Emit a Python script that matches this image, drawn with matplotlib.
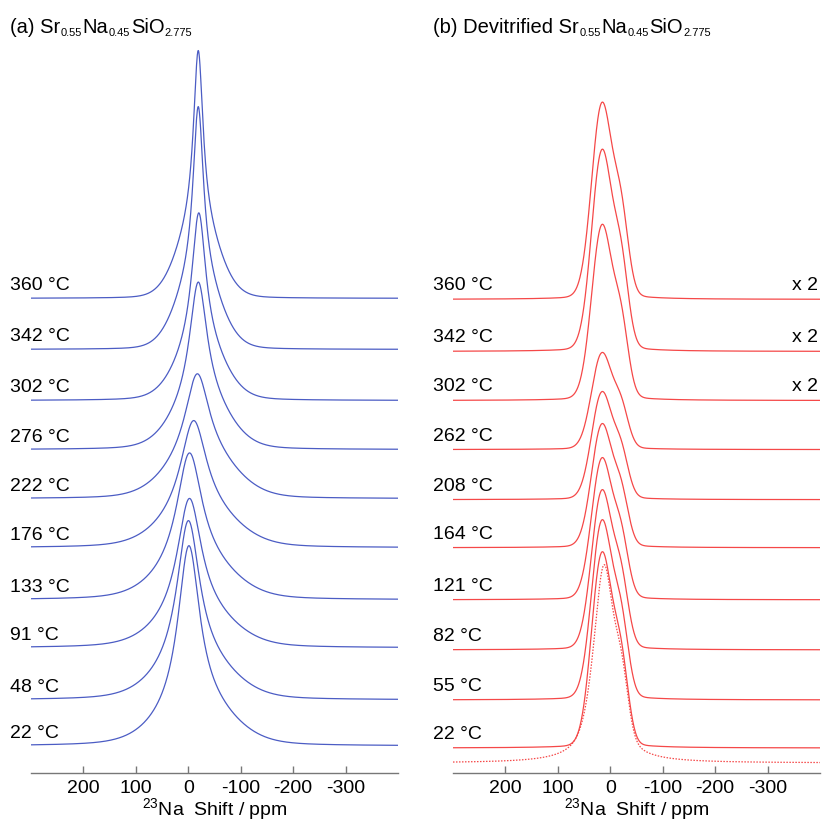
import numpy as np
import matplotlib.pyplot as plt

plt.rcParams['font.family'] = ['Liberation Sans', 'DejaVu Sans']
plt.rcParams['mathtext.fontset'] = 'custom'
plt.rcParams['mathtext.rm'] = 'Liberation Sans'
plt.rcParams['axes.unicode_minus'] = False

# (a) glass, stacked spectra bottom -> top
temps_a = [22, 48, 91, 133, 176, 222, 276, 302, 342, 360]
offset_a = [0.0, 0.92, 1.96, 2.92, 3.96, 4.94, 5.92, 6.90, 7.92, 8.94]
center_a = [-1, 0, -2, -2, -10, -17, -19, -20, -19, -19]
narrow_h_a = [3.3, 2.9, 2.4, 2.3, 1.9, 1.7, 2.4, 2.7, 3.45, 3.5]
narrow_w_a = [50, 52, 56, 58, 60, 55, 40, 32, 24, 22]
broad_h_a = [0.72, 0.7, 0.6, 0.65, 0.65, 0.8, 0.95, 1.05, 1.4, 1.45]
broad_w_a = [150, 150, 150, 150, 150, 140, 115, 100, 92, 88]
broad_shift_a = [-15, -15, -15, -15, -12, -8, -5, -3, 0, 0]

# (b) devitrified, stacked spectra bottom -> top
temps_b = [22, 55, 82, 121, 164, 208, 262, 302, 342, 360]
offset_b = [-0.04, 0.92, 1.92, 2.92, 3.96, 4.92, 5.92, 6.90, 7.88, 8.92]
height_b = [3.92, 3.6, 3.2, 2.84, 2.48, 2.16, 1.94, 3.52, 4.04, 3.94]
scale_b = ['', '', '', '', '', '', '', 'x 2', 'x 2', 'x 2']
# crystalline line shape: main site + shoulder site
sites_c = [16, -21]
sites_w = [46, 33]
sites_h = [1.0, 0.38]

# dotted reference spectrum under (b)
ref_offset = -0.34
ref_height = 3.96
ref_center = 12
ref_w = 48

blue = '#4b5cc4'
red = '#f54848'


def gauss(x, c, w):
    return np.exp(-4 * np.log(2) * (x - c) ** 2 / w ** 2)


def lorentz(x, c, w):
    return (w / 2) ** 2 / ((x - c) ** 2 + (w / 2) ** 2)


ppm = np.linspace(300, -400, 1400)

fig = plt.figure(figsize=(8.23, 8.22), dpi=100)
ax1 = fig.add_axes([31 / 823, 49 / 822, 367 / 823, 728 / 822])
ax2 = fig.add_axes([453 / 823, 49 / 822, 367 / 823, 728 / 822])

for ax in (ax1, ax2):
    ax.set_xlim(300, -400)
    ax.set_ylim(-0.54, 14.0)
    for s in ['top', 'left', 'right']:
        ax.spines[s].set_visible(False)
    ax.spines['bottom'].set_color('#777777')
    ax.spines['bottom'].set_linewidth(1.0)
    ax.set_yticks([])
    ax.set_xticks([200, 100, 0, -100, -200, -300])
    ax.tick_params(axis='x', direction='in', length=5, width=1, color='#777777',
                   labelsize=14, pad=5)
    ax.set_xlabel('$^{23}$Na  Shift / ppm', fontsize=14, va='center')
    ax.xaxis.set_label_coords(0.5, -37 / 728)

# panel a
for i in range(len(temps_a)):
    y = (narrow_h_a[i] * lorentz(ppm, center_a[i], narrow_w_a[i])
         + broad_h_a[i] * gauss(ppm, center_a[i] + broad_shift_a[i], broad_w_a[i]))
    ax1.plot(ppm, y + offset_a[i], color=blue, lw=0.9)
    ax1.text(-21 / 367, offset_a[i] + 0.25, f'{temps_a[i]} °C',
             transform=ax1.get_yaxis_transform(), fontsize=14, ha='left', va='center')

# panel b
for i in range(len(temps_b)):
    shape = sum(h * gauss(ppm, c, w) for c, w, h in zip(sites_c, sites_w, sites_h))
    shape = shape + 0.03 * lorentz(ppm, 0, 120)
    y = height_b[i] * shape / shape.max()
    ax2.plot(ppm, y + offset_b[i], color=red, lw=0.9)
    ax2.text(-20 / 367, offset_b[i] + 0.27, f'{temps_b[i]} °C',
             transform=ax2.get_yaxis_transform(), fontsize=14, ha='left', va='center')
    if scale_b[i]:
        ax2.text(0.995, offset_b[i] + 0.27, scale_b[i], transform=ax2.get_yaxis_transform(),
                 fontsize=14, ha='right', va='center')

ref = 0.3 * gauss(ppm, ref_center, ref_w) + 0.7 * lorentz(ppm, ref_center, ref_w)
ref = ref + 0.25 * gauss(ppm, -22, 30)
ref = ref_height * ref / ref.max()
ax2.plot(ppm, ref + ref_offset, color=red, lw=0.9, ls=(0, (1.2, 1.2)))


# titles with small subscripts, built piece by piece
def formula(x0, ybase, pieces):
    renderer = fig.canvas.get_renderer()
    x = x0
    for txt, sub in pieces:
        yb = ybase + 3 if sub else ybase
        t = fig.text(x / 823, 1 - yb / 822, txt, fontsize=8 if sub else 14.5,
                     va='baseline', ha='left')
        x = t.get_window_extent(renderer).x1 + 0.5


formula(10, 33, [('(a) Sr', False), ('0.55', True), ('Na', False), ('0.45', True),
                 ('SiO', False), ('2.775', True)])
formula(433, 33, [('(b) Devitrified Sr', False), ('0.55', True), ('Na', False),
                  ('0.45', True), ('SiO', False), ('2.775', True)])

fig.savefig('out.png', dpi=100)
